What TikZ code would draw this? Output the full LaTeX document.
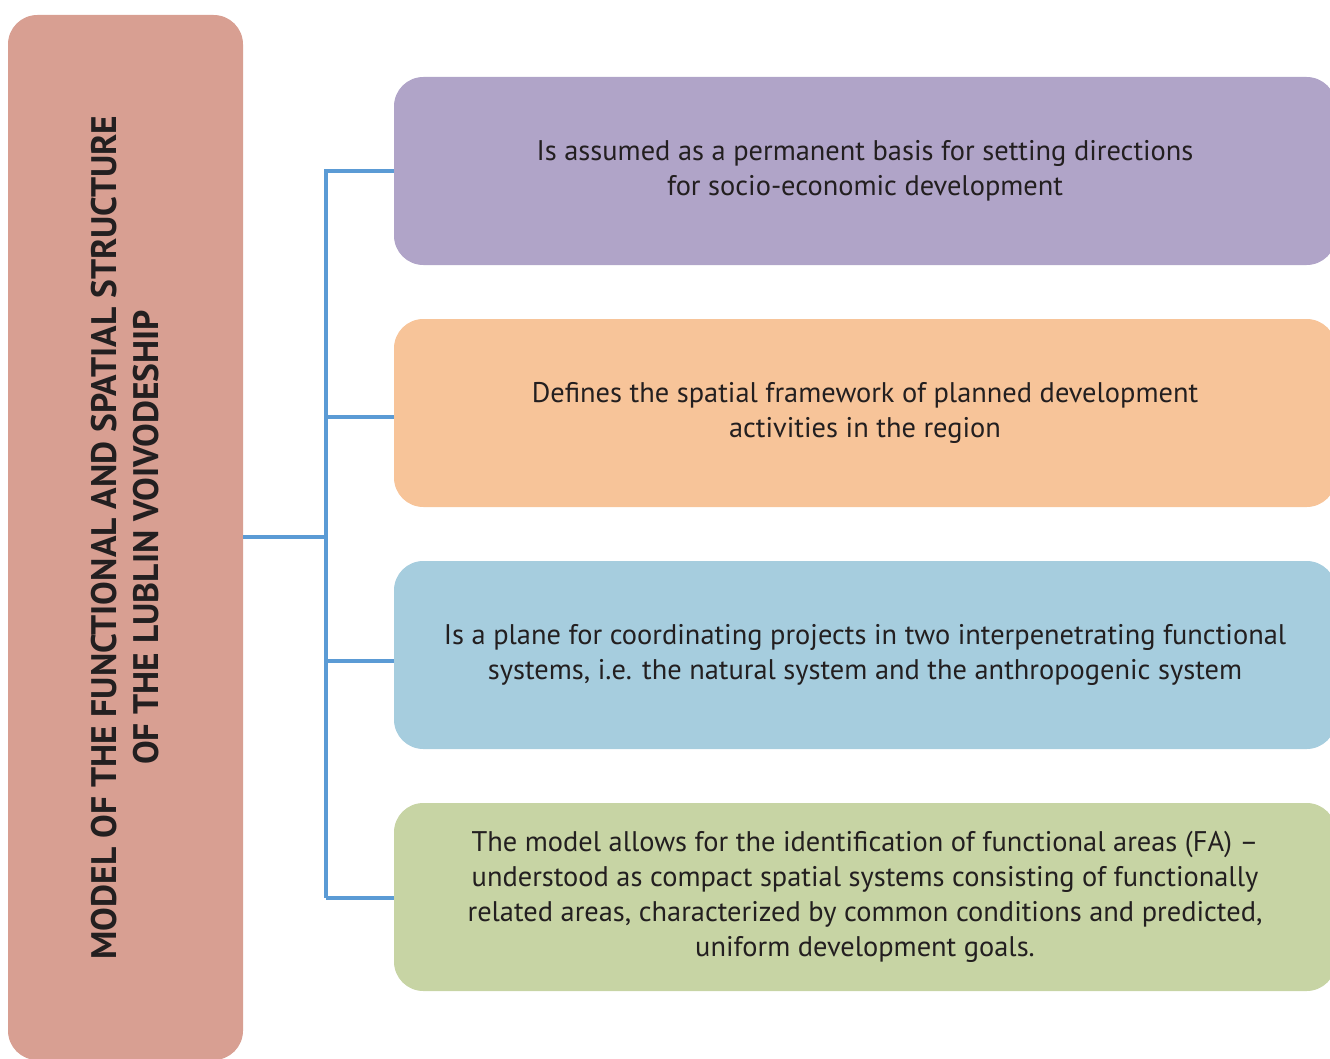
\documentclass[tikz,border=0pt]{standalone}
\usepackage{fontspec}
\setmainfont{PT Sans}
\usepackage{xcolor}
\usepackage{tikz}
\usetikzlibrary{positioning, calc}
\definecolor{titlerose}{HTML}{D89F92}
\definecolor{boxlilac}{HTML}{B0A4C8}
\definecolor{boxpeach}{HTML}{F7C499}
\definecolor{boxsky}{HTML}{A6CDDE}
\definecolor{boxsage}{HTML}{C7D4A4}
\definecolor{linkblue}{HTML}{5B9BD5}
\definecolor{inkgray}{HTML}{231F20}

\begin{document}
\begin{tikzpicture}[
  x=0.75pt, y=-0.75pt,
  role/.style={rectangle, rounded corners=22pt, fill=#1, draw=none,
    minimum width=706.5pt, minimum height=141pt, align=center,
    text=inkgray, font=\fontsize{21.3}{26.4}\selectfont},
  title/.style={rectangle, rounded corners=22pt, fill=titlerose, draw=none,
    rotate=90, minimum width=783.75pt, minimum height=176.25pt,
    align=center, text=inkgray, font=\fontsize{26.6}{31.5}\selectfont\bfseries},
  link/.style={draw=linkblue, line width=3.6pt}
]
  \clip (0,0) rectangle (1330,1059);

  % Model
  \node[title] (model) at (125.5,537.5) {MODEL OF THE FUNCTIONAL AND SPATIAL STRUCTURE\\OF THE LUBLIN VOIVODESHIP};

  % Roles
  \node[role=boxlilac] (basis) at (865,171) {Is assumed as a permanent basis for setting directions\\for socio-economic development};
  \node[role=boxpeach] (frame) at (865,413) {Defines the spatial framework of planned development\\activities in the region};
  \node[role=boxsky] (plane) at (865,655) {Is a plane for coordinating projects in two interpenetrating functional\\systems, i.e. the natural system and the anthropogenic system};
  \node[role=boxsage] (areas) at (865,897) {The model allows for the identification of functional areas (FA) --\\understood as compact spatial systems consisting of functionally\\related areas, characterized by common conditions and predicted,\\uniform development goals.};

  % Links
  \coordinate (hub) at (326,537);
  \draw[link] (model.south |- hub) -- (hub);
  \draw[link] (hub |- basis.west) -- ($(hub |- areas.west)+(0,1)$);
  \draw[link] (basis.west) -| (hub);
  \draw[link] ($(frame.west)+(0,4)$) -- +(-68,0);
  \draw[link] ($(plane.west)+(0,6)$) -- +(-68,0);
  \draw[link] ($(areas.west)+(0,1)$) -- +(-68,0);
\end{tikzpicture}
\end{document}
